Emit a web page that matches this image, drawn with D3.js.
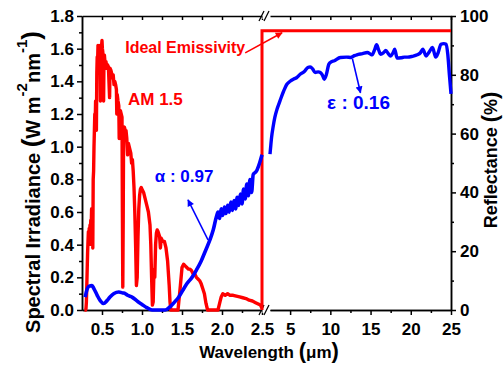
<!DOCTYPE html>
<html><head><meta charset="utf-8">
<script src="https://cdn.jsdelivr.net/npm/d3@7"></script>
<style>
body{margin:0;background:#fff}
svg text{font-family:"Liberation Sans",Arial,sans-serif;font-weight:bold}
</style>
</head><body><svg id="c" width="503" height="365"></svg>
<script>
// ---------- data ----------
const am15Wavelength = [0.28,0.295,0.30,0.305,0.31,0.315,0.32,0.325,0.33,0.335,0.34,0.345,0.35,0.355,0.36,0.365,0.37,0.375,0.38,0.385,0.39,0.395,0.40,0.405,0.41,0.415,0.42,0.425,0.43,0.435,0.44,0.445,0.45,0.455,0.46,0.465,0.47,0.475,0.48,0.485,0.49,0.495,0.50,0.505,0.51,0.515,0.52,0.525,0.53,0.54,0.55,0.56,0.57,0.58,0.595,0.60,0.61,0.62,0.63,0.64,0.65,0.66,0.67,0.68,0.685,0.69,0.70,0.71,0.715,0.72,0.73,0.74,0.75,0.755,0.76,0.765,0.77,0.78,0.79,0.80,0.81,0.82,0.83,0.84,0.85,0.86,0.87,0.88,0.89,0.90,0.91,0.92,0.93,0.94,0.95,0.96,0.97,0.98,0.99,1.00,1.02,1.04,1.06,1.08,1.10,1.11,1.12,1.13,1.14,1.15,1.16,1.17,1.18,1.19,1.20,1.22,1.23,1.24,1.26,1.28,1.30,1.32,1.34,1.35,1.36,1.45,1.46,1.48,1.50,1.52,1.54,1.56,1.58,1.60,1.62,1.64,1.66,1.68,1.70,1.72,1.74,1.76,1.78,1.80,1.82,1.95,1.97,1.99,2.01,2.04,2.07,2.10,2.14,2.18,2.22,2.26,2.30,2.34,2.38,2.42,2.46,2.48,2.50];
const am15Irradiance = [0,0,0.01,0.05,0.15,0.25,0.35,0.42,0.48,0.40,0.50,0.46,0.52,0.48,0.55,0.50,0.62,0.40,0.62,0.38,0.80,0.85,1.00,1.10,1.20,1.15,1.28,1.22,1.10,1.45,1.55,1.52,1.62,1.58,1.60,1.55,1.58,1.62,1.28,1.60,1.58,1.62,1.65,1.60,1.58,1.52,1.28,1.55,1.56,1.50,1.52,1.48,1.50,1.49,1.30,1.48,1.47,1.45,1.42,1.44,1.38,1.40,1.38,1.35,1.20,1.32,1.28,1.25,1.05,1.20,1.22,1.20,1.18,0.60,0.14,0.55,1.10,1.12,1.10,1.10,1.05,0.95,1.02,1.00,0.98,0.96,0.90,0.92,0.85,0.75,0.60,0.40,0.15,0.20,0.45,0.62,0.70,0.74,0.75,0.74,0.72,0.68,0.64,0.60,0.52,0.40,0.20,0.03,0.05,0.25,0.20,0.40,0.47,0.49,0.48,0.45,0.38,0.44,0.42,0.42,0.38,0.30,0.15,0.05,0,0,0.05,0.15,0.26,0.28,0.27,0.26,0.25,0.25,0.24,0.22,0.22,0.20,0.19,0.18,0.16,0.13,0.10,0.04,0,0,0.04,0.08,0.10,0.09,0.10,0.09,0.09,0.085,0.08,0.075,0.07,0.06,0.055,0.045,0.035,0.03,0.01];

const reflVisWavelength = [0.29,0.31,0.34,0.375,0.40,0.44,0.48,0.52,0.56,0.60,0.65,0.71,0.76,0.79,0.82,0.875,0.95,1.00,1.06,1.125,1.20,1.29,1.35,1.40,1.46,1.51,1.56,1.625,1.68,1.74,1.80,1.85,1.89,1.93,1.95,1.97,1.99,2.01,2.03,2.05,2.07,2.09,2.11,2.13,2.15,2.17,2.19,2.21,2.23,2.25,2.27,2.29,2.31,2.33,2.35,2.37,2.39,2.43,2.47,2.50];
const reflVisPercent = [4.4,6.7,8.1,8.3,7.2,5.0,3.1,2.2,3.1,4.4,5.6,6.1,5.8,5.6,5.0,4.4,2.8,1.9,0.8,0,0,0,1.1,2.5,4.4,6.7,8.9,11.1,13.6,16.7,20.6,23.9,27.2,31.7,33.3,31.1,34.4,32.2,35.0,32.8,35.6,33.3,36.7,33.9,37.2,34.4,38.3,35.6,39.4,36.1,41.1,37.8,42.8,38.9,44.4,40.0,46.1,47.2,50.0,52.8];

const reflIrWavelength = [2.5,2.6,2.7,2.9,3.1,3.4,3.75,4.2,4.6,5.0,5.4,5.8,6.25,6.8,7.2,7.5,7.8,8.1,8.5,8.75,9.0,9.25,9.5,9.8,10.0,10.5,11.25,12,12.5,13.0,13.3,14,14.6,15.0,15.2,15.5,15.75,16.0,16.25,16.6,16.9,17.2,17.5,17.8,18.0,18.3,18.8,19.2,19.6,20.2,20.8,21.2,21.5,21.9,22.3,22.7,23.1,23.4,23.75,24.1,24.4,24.6,24.8,25];
const reflIrPercent = [53,56,58.8,62.5,65.5,68.5,71.2,74.5,76.8,77.8,78.5,79,80.2,81.2,82.5,82.7,82,80.8,81,80.8,80,78.5,80,83.5,84.2,84.8,85.9,86,85.9,86.5,86.8,87.2,87.6,87,86.8,88.5,90.2,88.5,87,87.5,88.3,87.2,86.4,87.5,88.7,85.7,85.8,86,86,86.3,86.8,87.5,88.7,86.4,87.8,89.3,86,87.5,90.4,90.6,90.4,87,80,73.5];

const idealWavelength = [2.5, 2.5, 25];
const idealPercent = [0, 95, 95];

const leftTicks = [0,0.2,0.4,0.6,0.8,1.0,1.2,1.4,1.6,1.8];
const leftMinor = [0.1,0.3,0.5,0.7,0.9,1.1,1.3,1.5,1.7];
const rightTicks = [0,20,40,60,80,100];
const rightMinor = [10,30,50,70,90];
const xTicks1 = [0.5,1.0,1.5,2.0,2.5];
const xMinor1 = [0.75,1.25,1.75,2.25];
const xTicks2 = [5,10,15,20,25];
const xMinor2 = [7.5,12.5,17.5,22.5];

// ---------- scales ----------
const svg = d3.select("#c");
const x1 = d3.scaleLinear().domain([0.25, 2.5]).range([82, 262]);
const x2 = d3.scaleLinear().domain([2.5, 25]).range([270, 451]);
const yL = d3.scaleLinear().domain([0, 1.8]).range([310, 16]);
const yR = d3.scaleLinear().domain([0, 100]).range([310, 16]);
const yTop = 16, yBot = 310;

// ---------- axes ----------
function styleAxis(g){
  g.selectAll("path.domain").attr("stroke","#000").attr("stroke-width",1.5);
  g.selectAll(".tick line").attr("stroke","#000").attr("stroke-width",1.5);
  g.selectAll("text").attr("fill","#000").style("font-size","17px").style("font-weight","bold");
}
const f1 = d3.format(".1f");
svg.append("g").attr("transform",`translate(82,0)`)
  .call(d3.axisLeft(yL).tickValues(leftTicks).tickFormat(f1).tickSize(5).tickSizeOuter(0).tickPadding(3)).call(styleAxis);
svg.append("g").attr("transform",`translate(82,0)`)
  .call(d3.axisLeft(yL).tickValues(leftMinor).tickFormat("").tickSize(3).tickSizeOuter(0)).call(styleAxis);
svg.append("g").attr("transform",`translate(451,0)`)
  .call(d3.axisRight(yR).tickValues(rightTicks).tickFormat(d3.format("d")).tickSize(5).tickSizeOuter(0).tickPadding(4)).call(styleAxis);
svg.append("g").attr("transform",`translate(451,0)`)
  .call(d3.axisRight(yR).tickValues(rightMinor).tickFormat("").tickSize(3).tickSizeOuter(0)).call(styleAxis);

// bottom
svg.append("g").attr("transform",`translate(0,${yBot})`)
  .call(d3.axisBottom(x1).tickValues(xTicks1).tickFormat(f1).tickSize(5).tickSizeOuter(0).tickPadding(8)).call(styleAxis);
svg.append("g").attr("transform",`translate(0,${yBot})`)
  .call(d3.axisBottom(x1).tickValues(xMinor1).tickFormat("").tickSize(3).tickSizeOuter(0)).call(styleAxis);
svg.append("g").attr("transform",`translate(0,${yBot})`)
  .call(d3.axisBottom(x2).tickValues(xTicks2).tickFormat(d3.format("d")).tickSize(5).tickSizeOuter(0).tickPadding(8)).call(styleAxis);
svg.append("g").attr("transform",`translate(0,${yBot})`)
  .call(d3.axisBottom(x2).tickValues(xMinor2).tickFormat("").tickSize(3).tickSizeOuter(0)).call(styleAxis);
// top (inward ticks, no labels)
svg.append("g").attr("transform",`translate(0,${yTop})`)
  .call(d3.axisTop(x1).tickValues(xTicks1.concat(xMinor1)).tickFormat("").tickSize(-4).tickSizeOuter(0)).call(styleAxis);
svg.append("g").attr("transform",`translate(0,${yTop})`)
  .call(d3.axisTop(x2).tickValues(xTicks2.concat(xMinor2)).tickFormat("").tickSize(-4).tickSizeOuter(0)).call(styleAxis);

// axis break marks
[yTop, yBot].forEach(yy=>{
  const xa = x1(2.5), xb = x2(2.5);
  svg.append("rect").attr("x",xa+0.5).attr("y",yy-3).attr("width",xb-xa-1).attr("height",6).attr("fill","#fff");
  [xa-1, xa+4].forEach(xx=>{
    svg.append("line").attr("x1",xx-2).attr("y1",yy+5).attr("x2",xx+3).attr("y2",yy-5)
      .attr("stroke","#000").attr("stroke-width",1.3);
  });
});

// ---------- data lines ----------
const xAny = w => (w <= 2.5 ? x1(w) : x2(w));
const ideal = idealWavelength.map((w,i)=>[xAny(w), yR(idealPercent[i])]);
svg.append("path").attr("d", d3.line()(ideal)).attr("fill","none").attr("stroke","#ff0000").attr("stroke-width",3);

const am = am15Wavelength.map((w,i)=>[w, am15Irradiance[i]]);
svg.append("path").datum(am)
  .attr("d", d3.line().x(d=>x1(d[0])).y(d=>yL(d[1])))
  .attr("fill","none").attr("stroke","#ff0000").attr("stroke-width",3.4).attr("stroke-linejoin","round");

const vis = reflVisWavelength.map((w,i)=>[w, reflVisPercent[i]]);
svg.append("path").datum(vis)
  .attr("d", d3.line().x(d=>x1(d[0])).y(d=>yR(d[1])).curve(d3.curveMonotoneX))
  .attr("fill","none").attr("stroke","#0000ff").attr("stroke-width",3.6).attr("stroke-linejoin","round");
const ir = reflIrWavelength.map((w,i)=>[w, reflIrPercent[i]]);
svg.append("path").datum(ir)
  .attr("d", d3.line().x(d=>x2(d[0])).y(d=>yR(d[1])).curve(d3.curveMonotoneX))
  .attr("fill","none").attr("stroke","#0000ff").attr("stroke-width",3.4).attr("stroke-linejoin","round");

// ---------- annotations ----------
const defs = svg.append("defs");
[["arrR","#ff0000"],["arrB","#0000ff"]].forEach(([id,c])=>{
  defs.append("marker").attr("id",id).attr("viewBox","0 0 10 10").attr("refX",9).attr("refY",5)
    .attr("markerWidth",9).attr("markerHeight",7).attr("markerUnits","userSpaceOnUse").attr("orient","auto")
    .append("path").attr("d","M0,0 L10,5 L0,10 Z").attr("fill",c);
});
function arrow(p, q, id, c){
  svg.append("line").attr("x1",p[0]).attr("y1",p[1]).attr("x2",q[0]).attr("y2",q[1])
    .attr("stroke",c).attr("stroke-width",1.6).attr("marker-end",`url(#${id})`);
}
arrow([x1(2.29), yL(1.574)], [x2(4.0), yR(94.3)], "arrR", "#ff0000");
arrow([x1(1.825), yL(0.43)], [x1(1.575), yL(0.674)], "arrB", "#0000ff");
arrow([x2(12.75), yR(85.4)], [x2(13.75), yR(73.9)], "arrB", "#0000ff");

svg.append("text").attr("x",x1(0.79)).attr("y",yL(1.574)).attr("fill","#ff0000").style("font-size","16px").text("Ideal Emissivity");
svg.append("text").attr("x",x1(0.825)).attr("y",yL(1.255)).attr("fill","#ff0000").style("font-size","17px").text("AM 1.5");
svg.append("text").attr("x",x1(1.16)).attr("y",yL(0.784)).attr("fill","#0000ff").style("font-size","17px").text("α : 0.97");
svg.append("text").attr("x",x2(9.6)).attr("y",yR(68.5)).attr("fill","#0000ff").style("font-size","19px").text("ε : 0.16");

// axis titles
const xt = svg.append("text").attr("x",269).attr("y",358).attr("text-anchor","middle").style("font-size","17px");
xt.append("tspan").text("Wavelength ");
xt.append("tspan").style("font-size","22px").text("(");
xt.append("tspan").text("μm");
xt.append("tspan").style("font-size","22px").text(")");

const yt = svg.append("text").attr("transform","translate(40,182) rotate(-90)").attr("text-anchor","middle").style("font-size","20px");
yt.append("tspan").text("Spectral Irradiance ");
yt.append("tspan").style("font-size","26px").text("(");
yt.append("tspan").text("W m");
yt.append("tspan").attr("dy",-13).style("font-size","15px").text("-2");
yt.append("tspan").attr("dy",13).text("nm");
yt.append("tspan").attr("dy",-13).style("font-size","15px").text("-1");
yt.append("tspan").attr("dy",13).style("font-size","26px").text(")");

const rt = svg.append("text").attr("transform","translate(497,160) rotate(-90)").attr("text-anchor","middle").style("font-size","18px");
rt.append("tspan").text("Reflectance ");
rt.append("tspan").style("font-size","22px").text("(");
rt.append("tspan").text("%");
rt.append("tspan").style("font-size","22px").text(")");
</script></body></html>
